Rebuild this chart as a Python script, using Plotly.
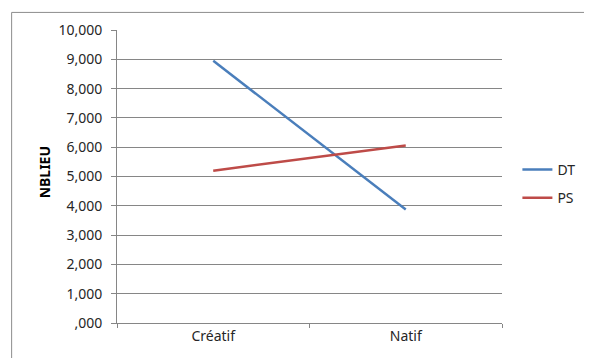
import plotly.graph_objects as go

# --- données ---
categories = ["Créatif", "Natif"]
dt_values = [8.95, 3.87]
ps_values = [5.20, 6.06]
y_ticks = [0, 1, 2, 3, 4, 5, 6, 7, 8, 9, 10]
y_tick_labels = [",000", "1,000", "2,000", "3,000", "4,000", "5,000",
                 "6,000", "7,000", "8,000", "9,000", "10,000"]

fig = go.Figure()
fig.add_trace(go.Scatter(x=categories, y=dt_values, mode="lines", name="DT",
                         legendgroup="dt",
                         line=dict(color="#4A7EBB", width=2.5)))
fig.add_trace(go.Scatter(x=categories, y=ps_values, mode="lines", name="PS",
                         legendgroup="ps",
                         line=dict(color="#BE4B48", width=2.5)))

# cadre extérieur du graphique (bords haut et gauche seulement visibles)
fig.add_shape(type="line", xref="paper", yref="paper",
              x0=-0.2737, y0=1.06, x1=1.3, y1=1.06,
              line=dict(color="#8C8C8C", width=1))
fig.add_shape(type="line", xref="paper", yref="paper",
              x0=-0.2737, y0=1.06, x1=-0.2737, y1=-0.2,
              line=dict(color="#8C8C8C", width=1))

# titre de l'axe Y
fig.add_annotation(text="<b>NBLIEU</b>", xref="paper", yref="paper",
                   x=-0.189, y=0.515, xanchor="center", yanchor="middle",
                   textangle=-90, showarrow=False,
                   font=dict(size=14, color="#000000"))

# la page ajoute une marge de 8 px : on la compense ici
fig.update_layout(
    width=584, height=350,
    margin=dict(l=109, r=84, t=16, b=35),
    paper_bgcolor="white", plot_bgcolor="white",
    font=dict(family="Noto Sans, Liberation Sans, sans-serif", size=14, color="#262626"),
    showlegend=True,
    legend=dict(x=1.04, y=0.475, xanchor="left", yanchor="middle",
                tracegroupgap=7, font=dict(size=14, color="#262626"),
                bgcolor="rgba(0,0,0,0)"),
    xaxis=dict(type="category", range=[-0.5, 1.5], showgrid=False,
               showline=True, linecolor="#868686", linewidth=1,
               ticks="outside", tickson="boundaries", ticklen=4,
               tickcolor="#868686", zeroline=False),
    yaxis=dict(range=[0, 10], tickvals=y_ticks, ticktext=y_tick_labels,
               showgrid=True, gridcolor="#868686", gridwidth=1,
               showline=True, linecolor="#868686", linewidth=1,
               ticks="outside", ticklen=5, tickcolor="#868686",
               ticklabelstandoff=6, zeroline=False),
)

fig.write_html("out.html")
